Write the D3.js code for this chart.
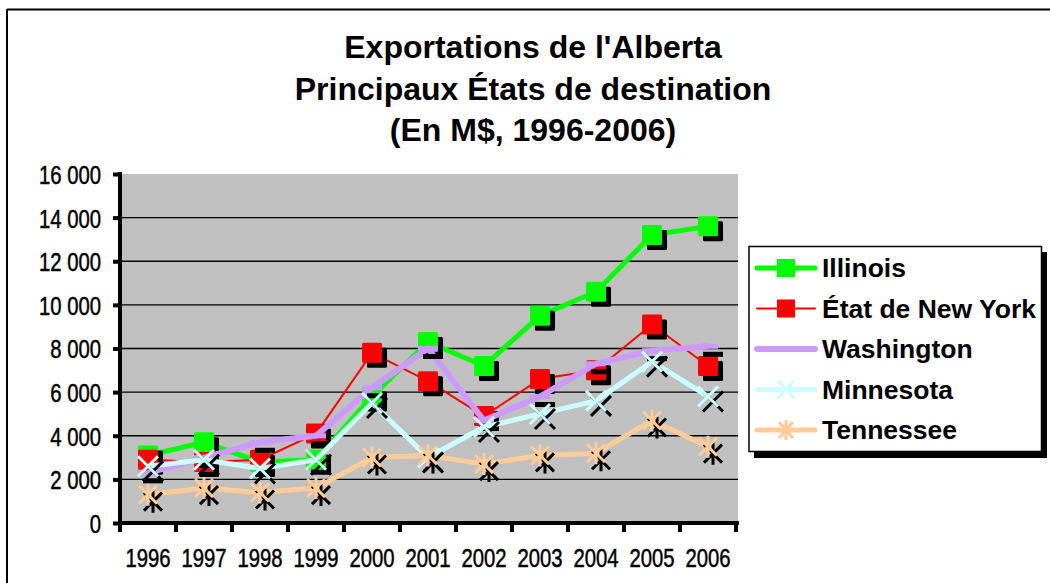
<!DOCTYPE html>
<html><head><meta charset="utf-8">
<script src="https://cdn.jsdelivr.net/npm/d3@7/dist/d3.min.js"></script>
<style>
html,body{margin:0;padding:0;background:#fff;}
svg{display:block;}
</style></head>
<body>
<svg id="chart" width="1050" height="583"></svg>
<script>
const years = ["1996","1997","1998","1999","2000","2001","2002","2003","2004","2005","2006"];
const illinois   = [3100, 3700, 2800, 2900, 5800, 8300, 7200, 9500, 10600, 13200, 13600];
const newYork    = [2900, 2800, 2900, 4100, 7800, 6500, 4900, 6600, 7000, 9100, 7200];
const washington = [2300, 3000, 3700, 4000, 6200, 8000, 4700, 5800, 7300, 7900, 8100];
const minnesota  = [2600, 2900, 2500, 2900, 5500, 3000, 4400, 5000, 5600, 7400, 5800];
const tennessee  = [1300, 1600, 1400, 1600, 3000, 3100, 2700, 3100, 3200, 4700, 3500];
const yTicks = [0, 2000, 4000, 6000, 8000, 10000, 12000, 14000, 16000];
const seriesNames = ["Illinois", "État de New York", "Washington", "Minnesota", "Tennessee"];
const titleLines = ["Exportations de l'Alberta", "Principaux États de destination", "(En M$, 1996-2006)"];

const series = [
  {name: seriesNames[0], values: illinois,   color: "#00FF00", width: 5, marker: "square"},
  {name: seriesNames[1], values: newYork,    color: "#FF0000", width: 2, marker: "square"},
  {name: seriesNames[2], values: washington, color: "#CC99FF", width: 6, marker: "dash"},
  {name: seriesNames[3], values: minnesota,  color: "#CCFFFF", width: 5, marker: "x"},
  {name: seriesNames[4], values: tennessee,  color: "#FFCC99", width: 5, marker: "star"}
];

const svg = d3.select("#chart");
const narrow = "'Liberation Sans',Arial,sans-serif";
const bold = "'Liberation Sans',Arial,sans-serif";

function condense(sel, factor) {
  sel.each(function() {
    const w = this.getComputedTextLength();
    d3.select(this).attr("textLength", w*factor).attr("lengthAdjust","spacingAndGlyphs");
  });
}

// outer border (top & left)
svg.append("line").attr("x1",7).attr("x2",1050).attr("y1",9.5).attr("y2",9.5).attr("stroke","#000").attr("stroke-width",2);
svg.append("line").attr("x1",7).attr("x2",7).attr("y1",9).attr("y2",583).attr("stroke","#000").attr("stroke-width",2);

const L = 120, R = 736, T = 174, B = 523;
const x = d3.scaleBand().domain(years).range([L, R]).padding(0);
const y = d3.scaleLinear().domain([0, 16000]).range([B, T]);
const cx = d => x(d) + x.bandwidth()/2;

// title
const title = svg.append("text").attr("text-anchor","middle").attr("font-family",bold)
  .attr("font-weight","bold").attr("font-size",32).attr("fill","#000");
titleLines.forEach((t,i)=>{
  title.append("tspan").attr("x",533).attr("y",58+i*41.5).text(t);
});

// plot background
svg.append("rect").attr("x",L).attr("y",T).attr("width",R-L+2).attr("height",B-T).attr("fill","#C0C0C0");

// gridlines
svg.append("g").selectAll("line").data(yTicks.filter(d=>d>0 && d<16000)).join("line")
  .attr("x1",L).attr("x2",R+2).attr("y1",d=>y(d)).attr("y2",d=>y(d))
  .attr("stroke","#000").attr("stroke-width",1.3);

// y axis
const yAxis = d3.axisLeft(y).tickValues(yTicks).tickSize(7).tickPadding(12)
  .tickFormat(d => d3.format(",")(d).replace(/,/g, " "));
const gy = svg.append("g").attr("transform",`translate(${L},0)`).call(yAxis);
gy.select(".domain").attr("stroke","#000").attr("stroke-width",4).attr("d",`M0,${T-2}V${B+2}`);
gy.selectAll(".tick line").attr("stroke","#000").attr("stroke-width",4);
gy.selectAll(".tick text").attr("font-family",narrow).attr("font-size",26).attr("fill","#000")
  .attr("stroke","#000").attr("stroke-width",0.5).attr("dy","0.36em");
condense(gy.selectAll(".tick text"), 0.78);

// x axis
const xAxis = d3.axisBottom(x).tickSize(0).tickPadding(26);
const gx = svg.append("g").attr("transform",`translate(0,${B})`).call(xAxis);
gx.select(".domain").attr("stroke","#000").attr("stroke-width",4).attr("d",`M${L-2},0H${R+3}`);
gx.selectAll(".tick text").attr("font-family",narrow).attr("font-size",26).attr("fill","#000")
  .attr("stroke","#000").attr("stroke-width",0.5);
condense(gx.selectAll(".tick text"), 0.78);
// x ticks at band boundaries
gx.append("g").selectAll("line").data(years.concat(["__end"])).join("line")
  .attr("x1",(d,i)=> i<years.length ? x(d) : R).attr("x2",(d,i)=> i<years.length ? x(d) : R)
  .attr("y1",0).attr("y2",9).attr("stroke","#000").attr("stroke-width",4);

// marker drawing
function drawMarker(g, type, px, py, color) {
  const s = 10;
  if (type === "square") {
    g.append("rect").attr("x",px-s).attr("y",py-s).attr("width",2*s).attr("height",2*s).attr("rx",1.5)
      .attr("fill",color);
  } else if (type === "dash") {
    g.append("rect").attr("x",px-s).attr("y",py-2.5).attr("width",2*s).attr("height",5).attr("fill",color);
  } else if (type === "x") {
    g.append("path").attr("d",`M${px-10},${py-10}L${px+10},${py+10}M${px-10},${py+10}L${px+10},${py-10}`)
      .attr("stroke",color).attr("stroke-width",3).attr("fill","none");
  } else if (type === "star") {
    g.append("path").attr("d",`M${px-9},${py-9}L${px+9},${py+9}M${px-9},${py+9}L${px+9},${py-9}M${px},${py-11}L${px},${py+11}`)
      .attr("stroke",color).attr("stroke-width",3).attr("fill","none");
  }
}

const line = d3.line().x((d,i)=>cx(years[i])).y(d=>y(d));
series.forEach(s => {
  const g = svg.append("g");
  g.append("path").datum(s.values).attr("d",line).attr("fill","none")
    .attr("stroke",s.color).attr("stroke-width",s.width).attr("stroke-linejoin","round");
  const off = s.marker === "star" ? [5,7] : (s.marker === "dash" ? [5,8] : [5,5]);
  s.values.forEach((v,i)=>{
    drawMarker(g, s.marker, cx(years[i])+off[0], y(v)+off[1], "#000");
  });
  s.values.forEach((v,i)=>{
    drawMarker(g, s.marker, cx(years[i]), y(v), s.color);
  });
});

// legend
const lg = svg.append("g");
lg.append("rect").attr("x",754).attr("y",252).attr("width",293).attr("height",206).attr("fill","#000");
lg.append("rect").attr("x",749).attr("y",246.5).attr("width",292.5).attr("height",205).attr("fill","#fff")
  .attr("stroke","#000").attr("stroke-width",1.5);
series.forEach((s,i)=>{
  const ly = 268 + i*40.5;
  const g = lg.append("g");
  g.append("line").attr("x1",757).attr("x2",815).attr("y1",ly).attr("y2",ly)
    .attr("stroke",s.color).attr("stroke-width",s.width).attr("stroke-linecap","round");
  if (s.marker === "square") {
    g.append("rect").attr("x",777).attr("y",ly-9).attr("width",18).attr("height",18).attr("fill",s.color);
  } else if (s.marker === "x") {
    g.append("path").attr("d",`M${778},${ly-9}L${794},${ly+9}M${778},${ly+9}L${794},${ly-9}`)
      .attr("stroke",s.color).attr("stroke-width",3);
  } else if (s.marker === "star") {
    g.append("path").attr("d",`M${779},${ly-8}L${793},${ly+8}M${779},${ly+8}L${793},${ly-8}M786,${ly-10}L786,${ly+10}`)
      .attr("stroke",s.color).attr("stroke-width",3);
  }
  g.append("text").attr("x",822).attr("y",ly+9).attr("font-family",bold).attr("font-weight","bold")
    .attr("font-size",26.5).attr("fill","#000").text(s.name);
});
</script>
</body></html>
